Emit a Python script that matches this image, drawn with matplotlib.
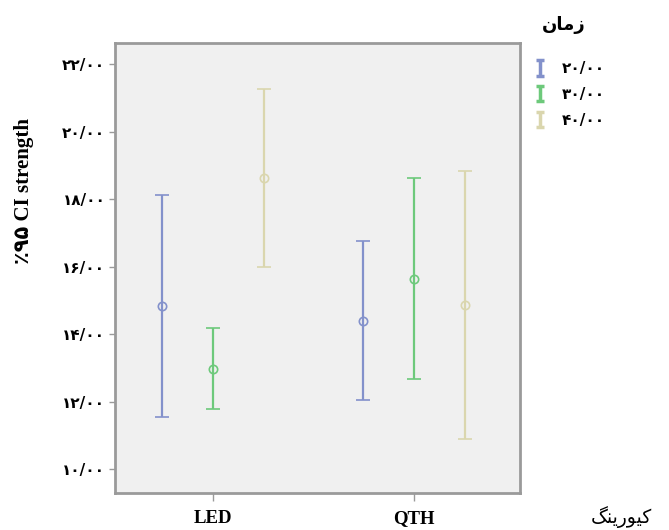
import numpy as np
import matplotlib
matplotlib.use('Agg')
import matplotlib.pyplot as plt
from matplotlib.legend_handler import HandlerErrorbar

# data (95% CI of strength)
groups = ['LED', 'QTH']
times = ['۲۰/۰۰', '۳۰/۰۰', '۴۰/۰۰']
mean_20 = [14.84, 14.40]
low_20 = [11.56, 12.06]
high_20 = [18.12, 16.76]
mean_30 = [12.98, 15.65]
low_30 = [11.78, 12.67]
high_30 = [14.20, 18.62]
mean_40 = [18.62, 14.87]
low_40 = [16.00, 10.89]
high_40 = [21.26, 18.85]
yticks = [10, 12, 14, 16, 18, 20, 22]
ytick_labels = ['۱۰/۰۰', '۱۲/۰۰', '۱۴/۰۰', '۱۶/۰۰', '۱۸/۰۰', '۲۰/۰۰', '۲۲/۰۰']

colors = ['#8391CB', '#6DC97B', '#DAD6AE']
means = [mean_20, mean_30, mean_40]
lows = [low_20, low_30, low_40]
highs = [high_20, high_30, high_40]
offsets = [-0.255, 0.0, 0.255]

# persian words in visual (left-to-right) order with presentation forms
title_fa = '\uFEE5\uFE8E\uFEE3\uFEAF'          # زمان
xlabel_fa = '\uFB93\uFEE8\uFBFE\uFEAD\uFEEE\uFBFF\uFB90'  # کیورینگ

serif = ['Liberation Serif', 'DejaVu Sans']
sans = ['DejaVu Sans']

fig = plt.figure(figsize=(6.69, 5.30), dpi=100)
ax = fig.add_axes([0.172, 0.0704, 0.605, 0.849])
ax.set_facecolor('#F0F0F0')

x = np.arange(len(groups))
handles = []
for i in range(3):
    m = np.array(means[i])
    yerr = [m - np.array(lows[i]), np.array(highs[i]) - m]
    ax.errorbar(x + offsets[i], m, yerr=yerr, fmt='o', color=colors[i],
                mfc='none', mec=colors[i], ms=6, mew=1.2, elinewidth=1.6,
                capsize=5, capthick=1.6)
    h = ax.errorbar([np.nan], [np.nan], yerr=[[np.nan], [np.nan]], fmt='none',
                    color=colors[i], elinewidth=2.5, capsize=3, capthick=2.5)
    handles.append(h)

ax.set_xlim(-0.488, 1.527)
ax.set_ylim(9.31, 22.64)
ax.set_xticks(x)
ax.set_xticklabels(groups, family=serif, fontweight='bold', fontsize=13.5)
ax.set_yticks(yticks)
ax.set_yticklabels(ytick_labels, family=sans, fontweight='bold', fontsize=11)
ax.tick_params(axis='x', direction='out', length=5.5, width=1, color='#9A9A9A', pad=7)
ax.tick_params(axis='y', direction='out', length=4, width=1, color='#9A9A9A', pad=3)

for s in ax.spines.values():
    s.set_color('#9A9A9A')
    s.set_linewidth(2)

ax.set_ylabel('٪۹۵ CI strength', family=serif, fontweight='bold', fontsize=15)
ax.yaxis.set_label_coords(-0.2, 0.67)
ax.set_xlabel(xlabel_fa, family=sans, fontsize=13.5)
ax.xaxis.set_label_coords(1.252, -0.03)

leg = fig.legend(handles, times, loc='upper left', bbox_to_anchor=(0.778, 0.91),
                 frameon=False, handlelength=0.8, handletextpad=1.0,
                 labelspacing=0.7, prop={'family': sans, 'weight': 'bold', 'size': 11},
                 handler_map={type(handles[0]): HandlerErrorbar(xerr_size=0.5, yerr_size=0.5)})
fig.text(0.843, 0.953, title_fa, family=sans, fontweight='bold', fontsize=13,
         ha='center', va='center')

fig.savefig('out.png', dpi=100)
